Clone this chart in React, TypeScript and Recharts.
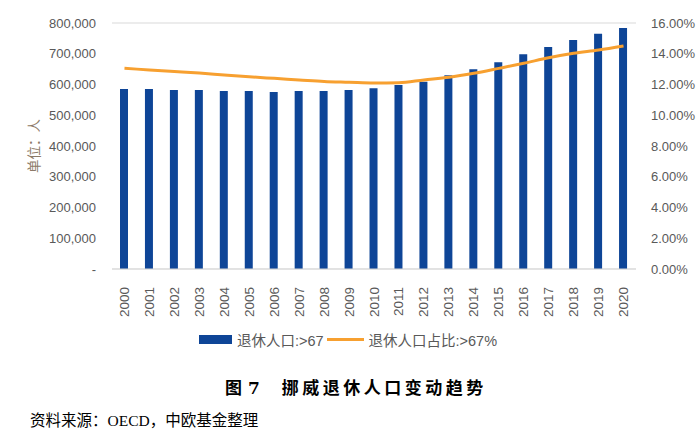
import React from "react";
import { ComposedChart, Bar, Line, XAxis, YAxis, CartesianGrid, Legend } from "recharts";

// Norway retired population (>67) and its share, 2000-2020
const years = [
  "2000", "2001", "2002", "2003", "2004", "2005", "2006", "2007", "2008", "2009", "2010",
  "2011", "2012", "2013", "2014", "2015", "2016", "2017", "2018", "2019", "2020",
];
const retired = [
  585000, 585000, 582000, 582000, 579000, 579000, 576000, 579000, 579000, 582000, 588000,
  598000, 609000, 630000, 650000, 672000, 698000, 722000, 745000, 765000, 784000,
];
const share = [
  13.05, 12.95, 12.85, 12.75, 12.62, 12.5, 12.4, 12.3, 12.2, 12.15, 12.1,
  12.12, 12.3, 12.47, 12.73, 13.05, 13.38, 13.74, 14.03, 14.24, 14.5,
];
const leftTicks = [0, 100000, 200000, 300000, 400000, 500000, 600000, 700000, 800000];
const rightTicks = [0, 2, 4, 6, 8, 10, 12, 14, 16];

const data = years.map((y, i) => ({ year: y, retired: retired[i], share: share[i] }));

const FONT = '"Liberation Sans", "Noto Sans CJK SC", sans-serif';
const GREY = "#595959";
const BLUE = "#0E4597";
const ORANGE = "#F7A030";

const YearTick = (props: any) => {
  const { x, y, payload } = props;
  return (
    <text
      x={x}
      y={y + 10}
      transform={`rotate(-90, ${x}, ${y + 10})`}
      textAnchor="end"
      dominantBaseline="central"
      fontSize={13.5}
      fill={GREY}
      fontFamily={FONT}
    >
      {payload.value}
    </text>
  );
};

const LegendContent = () => (
  <div
    style={{
      display: "flex",
      justifyContent: "center",
      alignItems: "center",
      height: 18,
      fontFamily: FONT,
      fontSize: 14.5,
      color: GREY,
      paddingRight: 4,
    }}
  >
    <span style={{ display: "inline-block", width: 33, height: 9, background: BLUE, marginRight: 5 }} />
    <span>退休人口:&gt;67</span>
    <span
      style={{ display: "inline-block", width: 37, height: 3, background: ORANGE, marginLeft: 3, marginRight: 5 }}
    />
    <span>退休人口占比:&gt;67%</span>
  </div>
);

export default function App() {
  return (
    <div
      style={{
        position: "absolute",
        left: 0,
        top: 0,
        width: 700,
        height: 431,
        background: "#fff",
      }}
    >
      <ComposedChart
        width={700}
        height={360}
        data={data}
        margin={{ top: 23, right: 0, bottom: 12, left: 0 }}
      >
        <CartesianGrid vertical={false} stroke="#d9d9d9" />
        <XAxis
          dataKey="year"
          height={61}
          interval={0}
          tick={<YearTick />}
          tickLine={false}
          axisLine={{ stroke: "#d9d9d9" }}
        />
        <YAxis
          yAxisId="left"
          orientation="left"
          width={112}
          domain={[0, 800000]}
          ticks={leftTicks}
          tickLine={false}
          axisLine={false}
          tickMargin={10}
          tick={{ fontSize: 13, fill: GREY, fontFamily: FONT }}
          tickFormatter={(v: number) => (v === 0 ? "-" : v.toLocaleString("en-US"))}
          label={{
            value: "单位：人",
            angle: -90,
            position: "center",
            dx: -22,
            fill: "#8c7a68",
            fontSize: 13.5,
            fontFamily: FONT,
          }}
        />
        <YAxis
          yAxisId="right"
          orientation="right"
          width={64}
          domain={[0, 16]}
          ticks={rightTicks}
          tickLine={false}
          axisLine={false}
          tickMargin={9}
          tick={{ fontSize: 13, fill: GREY, fontFamily: FONT }}
          tickFormatter={(v: number) => `${v.toFixed(2)}%`}
        />
        <Legend verticalAlign="bottom" height={18} content={<LegendContent />} />
        <Bar
          yAxisId="left"
          dataKey="retired"
          name="退休人口:>67"
          fill={BLUE}
          barSize={8}
          isAnimationActive={false}
        />
        <Line
          yAxisId="right"
          dataKey="share"
          name="退休人口占比:>67%"
          stroke={ORANGE}
          strokeWidth={3}
          dot={false}
          type="monotone"
          isAnimationActive={false}
        />
      </ComposedChart>
      <div
        style={{
          position: "absolute",
          left: 225,
          top: 374,
          fontFamily: '"DejaVu Serif", "Noto Sans CJK SC", serif',
          fontWeight: "bold",
          fontSize: 17,
          color: "#000",
          whiteSpace: "nowrap",
        }}
      >
        <span>图 7</span>
        <span style={{ marginLeft: 22, letterSpacing: 3.5 }}>挪威退休人口变动趋势</span>
      </div>
      <div
        style={{
          position: "absolute",
          left: 30,
          top: 408,
          fontFamily: '"Liberation Serif", "Noto Sans CJK SC", serif',
          fontSize: 15.5,
          color: "#000",
          whiteSpace: "nowrap",
        }}
      >
        资料来源：OECD，中欧基金整理
      </div>
    </div>
  );
}
